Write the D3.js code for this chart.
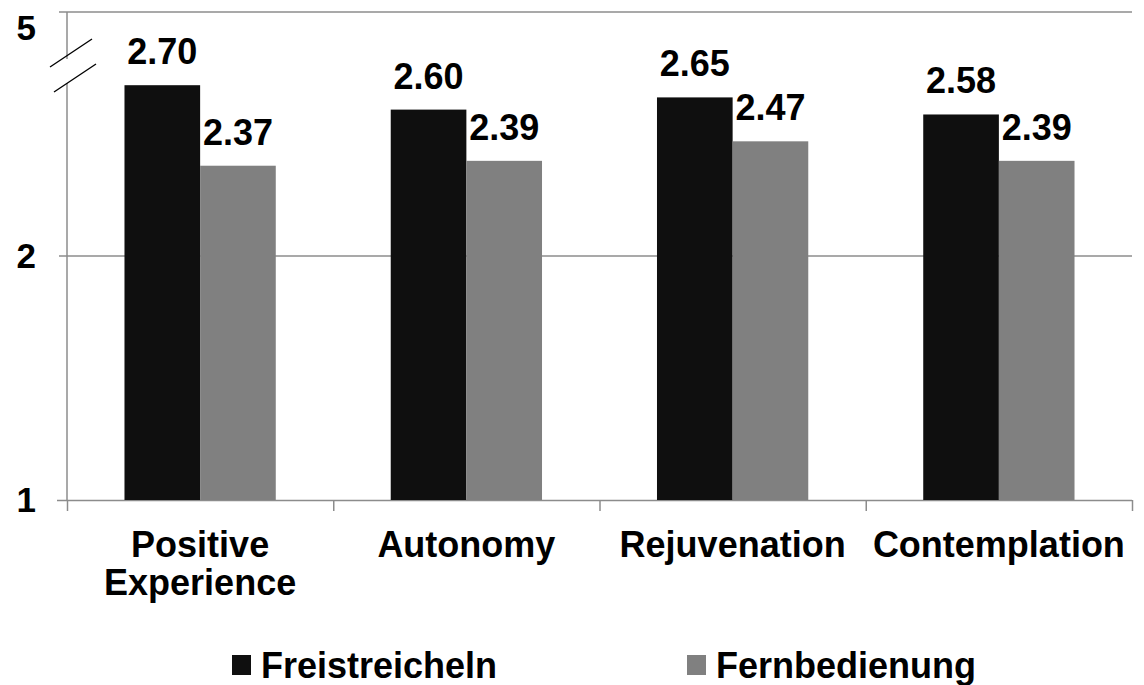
<html>
<head>
  <meta charset="UTF-8"/>
  <script src="https://d3js.org/d3.v7.min.js"></script>
  <style>
body { margin: 0; background: #fff; }
svg { display: block; }
text { font-family: 'Liberation Sans', Arial, sans-serif; font-weight: bold; fill: #000; }
.grid line { stroke: #8c8c8c; stroke-width: 1.5; }
.axis path, .axis line { stroke: #8c8c8c; stroke-width: 1.5; }
  </style>
</head>
<body>
<svg width="1144" height="685"></svg>
<script>
const categories = [["Positive", "Experience"], ["Autonomy"], ["Rejuvenation"], ["Contemplation"]];
const seriesNames = ["Freistreicheln", "Fernbedienung"];
const freistreicheln = [2.70, 2.60, 2.65, 2.58];
const fernbedienung = [2.37, 2.39, 2.47, 2.39];
const yTicks = [1, 2, 3];
const yTickLabels = ["1", "2", "5"];   // axis is broken: top line is labelled 5
const colors = ["#0f0f0f", "#808080"];

const svg = d3.select('svg');
const plotLeft = 67, plotRight = 1132, plotTop = 12, plotBottom = 500;

const x = d3.scaleBand()
  .domain(categories.map((c, i) => i))
  .range([plotLeft, plotRight])
  .paddingInner(0)
  .paddingOuter(0);

const xInner = d3.scaleBand()
  .domain([0, 1])
  .range([0, x.bandwidth()])
  .paddingOuter(0.76)
  .paddingInner(0);

const y = d3.scaleLinear().domain([1, 3]).range([plotBottom, plotTop]);

// gridlines
svg.append('g').attr('class', 'grid')
  .selectAll('line').data(yTicks.slice(1)).join('line')
  .attr('x1', plotLeft - 8).attr('x2', plotRight)
  .attr('y1', d => y(d)).attr('y2', d => y(d));

// y axis line with a gap for the break
const brk = [59, 83];
const yAxis = svg.append('g').attr('class', 'axis');
yAxis.append('line').attr('x1', plotLeft).attr('x2', plotLeft).attr('y1', plotTop).attr('y2', brk[0]);
yAxis.append('line').attr('x1', plotLeft).attr('x2', plotLeft).attr('y1', brk[1]).attr('y2', plotBottom);

// break marks
[[50, 67, 92, 39], [54, 92, 96, 64]].forEach(b => {
  svg.append('line')
    .attr('x1', b[0]).attr('y1', b[1]).attr('x2', b[2]).attr('y2', b[3])
    .attr('stroke', '#000').attr('stroke-width', 1.3);
});

// y tick labels
svg.append('g').selectAll('text').data(yTicks).join('text')
  .attr('x', 36)
  .attr('y', (d, i) => y(d) + (i === 2 ? 28 : 12))
  .attr('text-anchor', 'end')
  .style('font-size', '35px')
  .text((d, i) => yTickLabels[i]);

// x axis
const xAxis = svg.append('g').attr('class', 'axis')
  .attr('transform', `translate(0, ${plotBottom})`)
  .call(d3.axisBottom(d3.scaleLinear().domain([0, 4]).range([plotLeft, plotRight]))
    .tickValues([0, 1, 2, 3, 4]).tickSize(11).tickFormat(''));
xAxis.select('.domain').attr('d', `M${plotLeft - 10},0.5H${plotRight}`);

// bars
const series = [freistreicheln, fernbedienung];
series.forEach((vals, s) => {
  const g = svg.append('g');
  g.selectAll('rect').data(vals).join('rect')
    .attr('x', (d, i) => x(i) + xInner(s))
    .attr('y', d => y(d))
    .attr('width', xInner.bandwidth())
    .attr('height', d => plotBottom - y(d))
    .attr('fill', colors[s]);
  g.selectAll('text').data(vals).join('text')
    .attr('x', (d, i) => x(i) + xInner(s) + xInner.bandwidth() / 2)
    .attr('y', d => y(d) - 21)
    .attr('text-anchor', 'middle')
    .style('font-size', '36px')
    .text(d => d.toFixed(2));
});

// category labels
categories.forEach((lines, i) => {
  const cx = x(i) + x.bandwidth() / 2;
  const t = svg.append('text')
    .attr('x', cx)
    .attr('y', 557)
    .attr('text-anchor', 'middle')
    .style('font-size', '36px');
  lines.forEach((l, j) => {
    t.append('tspan').attr('x', cx).attr('dy', j === 0 ? 0 : 38).text(l);
  });
});

// legend
const legendX = [232, 687];
seriesNames.forEach((name, s) => {
  svg.append('rect')
    .attr('x', legendX[s]).attr('y', 655)
    .attr('width', 19).attr('height', 20)
    .attr('fill', colors[s]);
  svg.append('text')
    .attr('x', legendX[s] + 29).attr('y', 678)
    .style('font-size', '36px')
    .text(name);
});
</script>
</body>
</html>
